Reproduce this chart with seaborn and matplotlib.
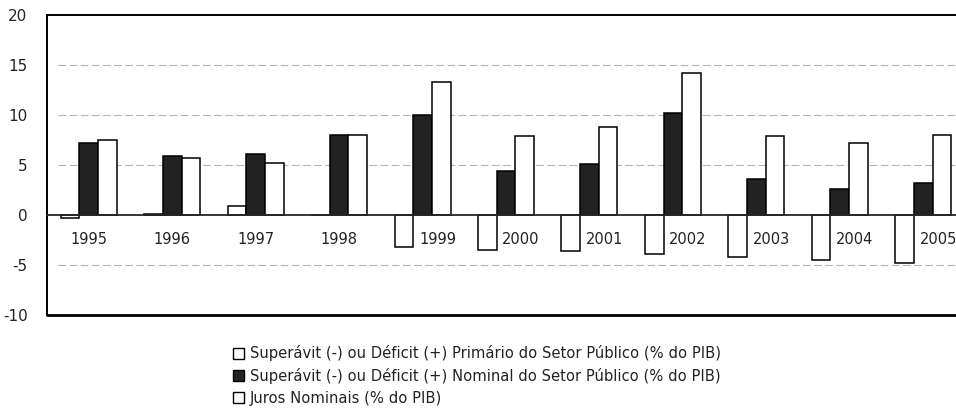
import numpy as np
import pandas as pd
import matplotlib
matplotlib.use("Agg")
import matplotlib.pyplot as plt
from matplotlib.patches import Patch
import seaborn as sns

# ------------------------------------------------------------
# Dados (% do PIB)
# ------------------------------------------------------------
anos = ["1995", "1996", "1997", "1998", "1999", "2000",
        "2001", "2002", "2003", "2004", "2005"]
primario = [-0.3, 0.1, 0.9, 0.0, -3.2, -3.5, -3.6, -3.9, -4.2, -4.5, -4.8]
nominal = [7.2, 5.9, 6.1, 8.0, 10.0, 4.4, 5.1, 10.2, 3.6, 2.6, 3.2]
juros = [7.5, 5.7, 5.2, 8.0, 13.3, 7.9, 8.8, 14.2, 7.9, 7.2, 8.0]

series = [
    "Superávit (-) ou Déficit (+) Primário do Setor Público (% do PIB)",
    "Superávit (-) ou Déficit (+) Nominal do Setor Público (% do PIB)",
    "Juros Nominais (% do PIB)",
]
cores = ["white", "#222222", "white"]
yticks = [-10, -5, 0, 5, 10, 15, 20]
grade = [-5, 5, 10, 15]

df = pd.DataFrame({
    "ano": anos * 3,
    "valor": primario + nominal + juros,
    "serie": [series[0]] * len(anos) + [series[1]] * len(anos) + [series[2]] * len(anos),
})

# ------------------------------------------------------------
# Figura
# ------------------------------------------------------------
sns.set_style("white")
plt.rcParams["font.family"] = ["DejaVu Sans"]

fig = plt.figure(figsize=(9.56, 4.2), dpi=100)
# o eixo continua além da borda direita, como no original recortado
ax = fig.add_axes([47 / 956, 105 / 420, 918 / 956, 300 / 420])

sns.barplot(data=df, x="ano", y="valor", hue="serie", palette=cores,
            edgecolor="black", linewidth=1.1, width=0.67, ax=ax, legend=False)

ax.set_ylim(-10, 20)
ax.set_xlim(-0.5, len(anos) - 0.5)
ax.set_yticks(yticks)
ax.set_yticklabels([str(v) for v in yticks], fontsize=11, color="#222")
ax.tick_params(axis="y", length=0, pad=14)

# linhas de grade tracejadas, claras, começando um pouco depois do eixo
for g in grade:
    ax.axhline(g, xmin=0.012, color="#b4b4b4", lw=0.8, ls=(0, (7, 3)), zorder=0)

# eixo x na linha do zero
ax.spines["bottom"].set_position(("data", 0))
ax.spines["bottom"].set_linewidth(1.3)
ax.axhline(-10, color="black", lw=2.0, clip_on=False)
for lado in ["left", "top"]:
    ax.spines[lado].set_color("black")
    ax.spines[lado].set_linewidth(1.4)
ax.spines["right"].set_visible(False)

ax.set_xticks(np.arange(len(anos) - 1) + 0.5)
ax.set_xticklabels([])
ax.tick_params(axis="x", direction="out", length=4, width=1.2, color="black")

# rótulos dos anos logo abaixo do zero (deslocados quando há barra negativa)
for i, ano in enumerate(anos):
    desloc = 0.18 if primario[i] < -1 else 0.0
    ax.text(i + desloc, -1.7, ano, ha="center", va="top", fontsize=10.5, color="#222")

ax.set_xlabel("")
ax.set_ylabel("")

handles = [Patch(facecolor=c, edgecolor="black", linewidth=1.0) for c in cores]
fig.legend(handles, series, loc="upper left", bbox_to_anchor=(226 / 956, 1 - 338 / 420),
           frameon=False, fontsize=10.6, handlelength=0.75, handleheight=0.75,
           handletextpad=0.35, labelspacing=0.45, borderpad=0, labelcolor="#222")

fig.savefig("out.png", dpi=100)
plt.close(fig)
